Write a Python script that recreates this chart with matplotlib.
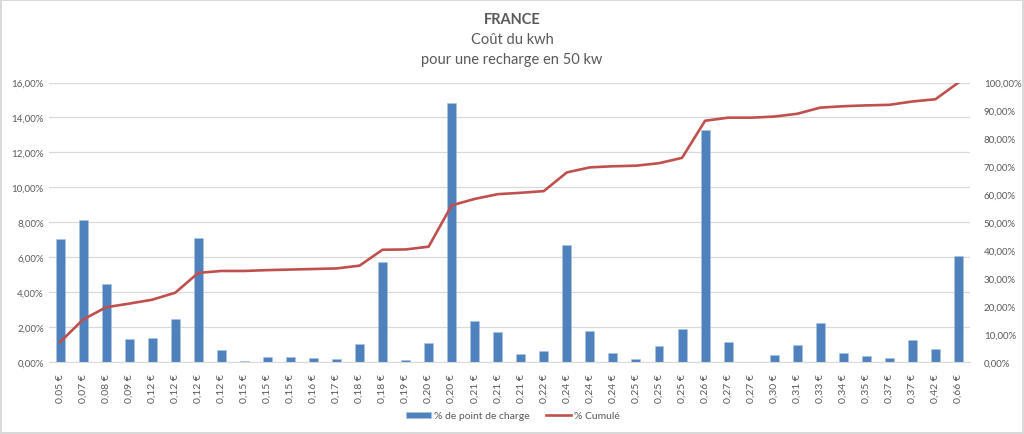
import numpy as np
import matplotlib
matplotlib.use("Agg")
import matplotlib.pyplot as plt
from matplotlib.ticker import FuncFormatter, MultipleLocator

plt.rcParams['font.family'] = ['Lato', 'DejaVu Sans']

# --- DATA ---
prices = ["0,05", "0,07", "0,08", "0,09", "0,12", "0,12", "0,12", "0,12", "0,15", "0,15",
          "0,15", "0,16", "0,17", "0,18", "0,18", "0,19", "0,20", "0,20", "0,21", "0,21",
          "0,21", "0,22", "0,24", "0,24", "0,24", "0,25", "0,25", "0,25", "0,26", "0,27",
          "0,27", "0,30", "0,31", "0,33", "0,34", "0,35", "0,37", "0,37", "0,42", "0,66"]
labels = [p + " €" for p in prices]

pct_points = [7.03, 8.10, 4.43, 1.30, 1.34, 2.47, 7.09, 0.69, 0.04, 0.29,
              0.25, 0.21, 0.13, 1.01, 5.71, 0.10, 1.05, 14.80, 2.33, 1.70,
              0.44, 0.63, 6.71, 1.74, 0.48, 0.15, 0.88, 1.89, 13.30, 1.13,
              0.00, 0.38, 0.96, 2.22, 0.52, 0.31, 0.19, 1.23, 0.75, 6.04]

pct_cumul = [7.0, 15.1, 19.5, 20.8, 22.2, 24.7, 31.8, 32.5, 32.5, 32.8,
             33.0, 33.2, 33.4, 34.4, 40.1, 40.2, 41.2, 56.0, 58.3, 60.0,
             60.5, 61.1, 67.8, 69.6, 70.0, 70.2, 71.1, 73.0, 86.3, 87.4,
             87.4, 87.8, 88.8, 91.0, 91.5, 91.8, 92.0, 93.2, 94.0, 100.0]

blue = '#4F81BD'
red = '#C0504D'
grey_txt = '#595959'
grid_col = '#D9D9D9'

fig = plt.figure(figsize=(10.24, 4.35), dpi=100)
fig.patch.set_edgecolor(grid_col)
fig.patch.set_linewidth(1.5)

ax = fig.add_axes([48.5 / 1024, (435 - 362.7) / 435, (970 - 48.5) / 1024, (362.7 - 83.5) / 435])
x = np.arange(len(labels))

ax.bar(x, pct_points, width=0.39, color=blue, edgecolor='#A9C4E6', linewidth=0.4,
       label='% de point de charge', zorder=2)
ax.set_xlim(-0.5, len(labels) - 0.5)
ax.set_ylim(0, 16)
ax.yaxis.set_major_locator(MultipleLocator(2))
ax.yaxis.set_major_formatter(FuncFormatter(lambda v, p: f"{v:.2f}%".replace('.', ',')))
ax.set_xticks(x)
ax.set_xticklabels(labels, rotation=90)
ax.grid(axis='y', color=grid_col, linewidth=0.9, zorder=0)
ax.set_axisbelow(True)
for s in ['top', 'right', 'left']:
    ax.spines[s].set_visible(False)
ax.spines['bottom'].set_color(grid_col)
ax.tick_params(axis='y', length=0, labelsize=7, colors=grey_txt)
ax.tick_params(axis='x', length=0, labelsize=7.5, colors=grey_txt, pad=8)

ax2 = ax.twinx()
ax2.plot(x, pct_cumul, color=red, linewidth=1.9, label='% Cumulé', zorder=3)
ax2.set_ylim(0, 100)
ax2.yaxis.set_major_locator(MultipleLocator(10))
ax2.yaxis.set_major_formatter(FuncFormatter(lambda v, p: f"{v:.2f}%".replace('.', ',')))
for s in ax2.spines.values():
    s.set_visible(False)
ax2.tick_params(axis='y', length=0, labelsize=7, colors=grey_txt, pad=10)

# titles
fig.text(0.5, 1 - 20 / 435, "FRANCE", ha='center', va='center', fontsize=10.5,
         fontweight='bold', color=grey_txt)
fig.text(0.5, 1 - 40 / 435, "Coût du kwh", ha='center', va='center', fontsize=10.5, color=grey_txt)
fig.text(0.5, 1 - 60 / 435, "pour une recharge en 50 kw", ha='center', va='center',
         fontsize=10.5, color=grey_txt)

h1, l1 = ax.get_legend_handles_labels()
h2, l2 = ax2.get_legend_handles_labels()
leg = fig.legend(h1 + h2, l1 + l2, loc='center', bbox_to_anchor=(513 / 1024, 1 - 417 / 435),
                 ncol=2, frameon=False, fontsize=7.5, handlelength=2.4, handleheight=0.5,
                 handletextpad=0.3, columnspacing=1.6)
for t in leg.get_texts():
    t.set_color(grey_txt)

fig.savefig('out.png', dpi=100)
